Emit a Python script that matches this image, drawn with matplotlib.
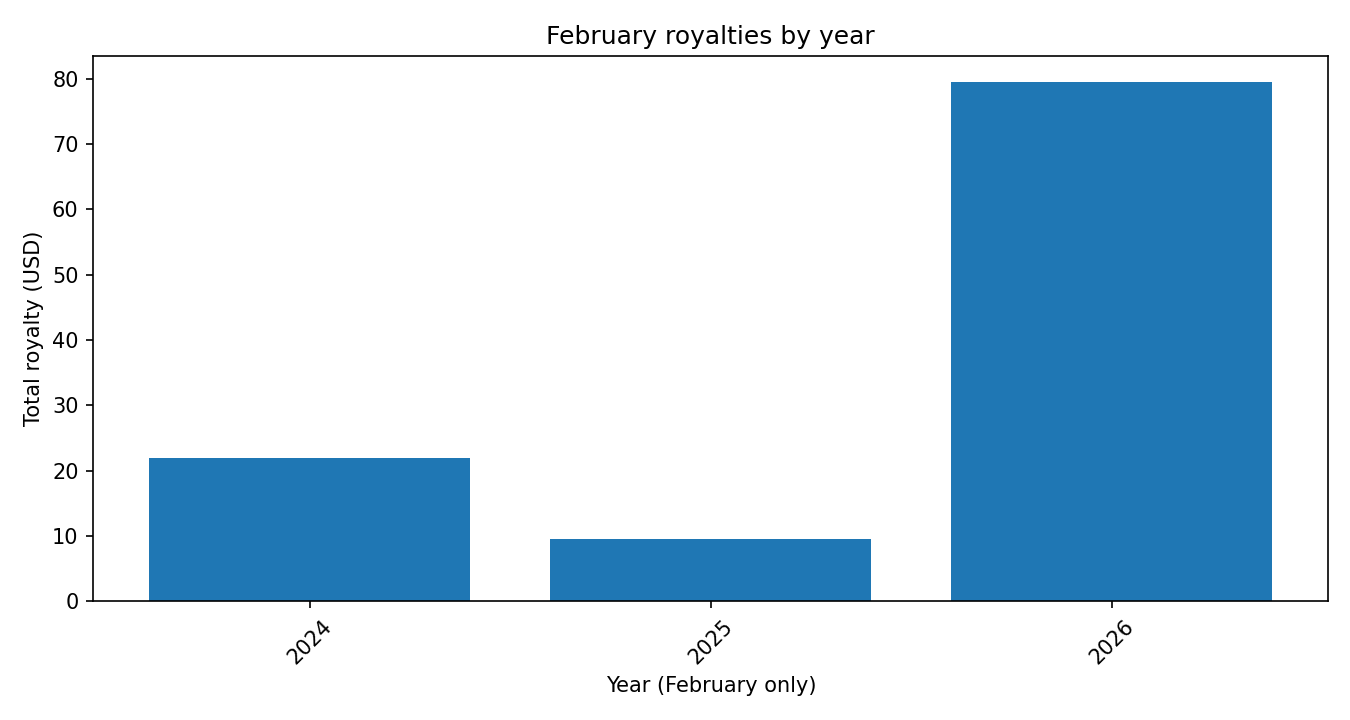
import matplotlib
matplotlib.use('Agg')
import matplotlib.pyplot as plt

years = ['2024', '2025', '2026']
royalties = [21.9, 9.45, 79.5]

fig, ax = plt.subplots(figsize=(9, 4.8), dpi=150)
ax.bar(years, royalties, color='#1f77b4')
ax.set_title('February royalties by year')
ax.set_xlabel('Year (February only)')
ax.set_ylabel('Total royalty (USD)')
plt.setp(ax.get_xticklabels(), rotation=45)
fig.subplots_adjust(left=0.069, right=0.984, top=0.922, bottom=0.165)
fig.savefig('out.png')
